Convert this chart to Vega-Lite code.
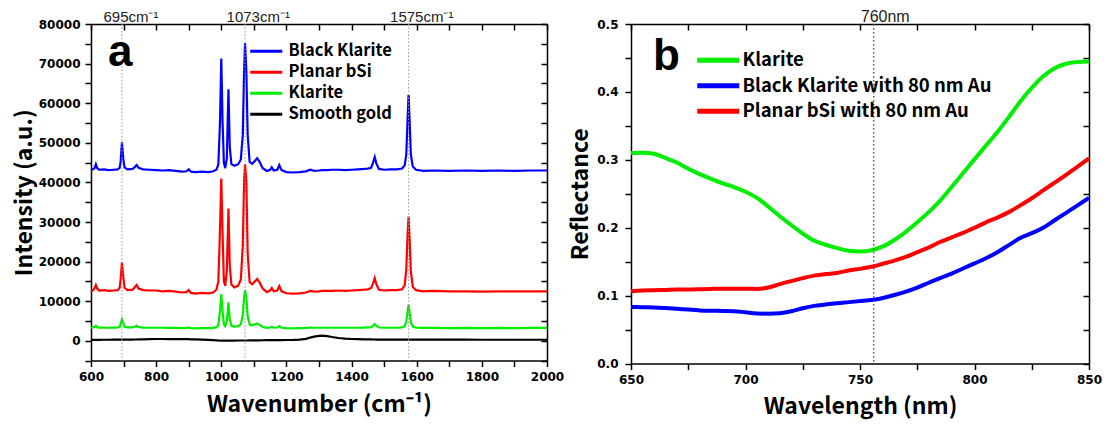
{
  "$schema": "https://vega.github.io/schema/vega-lite/v6.json",
  "background": "white",
  "padding": {"left": 13, "top": 9, "right": 5, "bottom": 5},
  "bounds": "flush",
  "spacing": 84,
  "config": {
    "view": {"stroke": null},
    "axis": {
      "grid": false,
      "domainColor": "#000000",
      "domainWidth": 1.5,
      "tickColor": "#000000",
      "tickWidth": 1.5,
      "tickSize": 6,
      "labelFont": "DejaVu Sans",
      "labelFontWeight": "bold",
      "labelFontSize": 12,
      "labelColor": "#000000",
      "labelPadding": 5,
      "labelFlush": false,
      "labelOverlap": false,
      "titleFont": "Noto Sans CJK KR",
      "titleFontWeight": "bold",
      "titleFontSize": 23,
      "titleColor": "#000000"
    }
  },
  "resolve": {"scale": {"color": "independent"}, "legend": {"color": "independent"}},
  "hconcat": [
    {
      "width": 456,
      "height": 336.6,
      "layer": [
        {
          "data": {"values": [
            {"w":600,"Black Klarite":43100,"Planar bSi":12400,"Klarite":3300,"Smooth gold":250},
            {"w":606,"Black Klarite":43300,"Planar bSi":12800,"Klarite":3400,"Smooth gold":250},
            {"w":611,"Black Klarite":43600,"Planar bSi":13300,"Klarite":3500,"Smooth gold":250},
            {"w":615,"Black Klarite":44600,"Planar bSi":14100,"Klarite":3800,"Smooth gold":250},
            {"w":619,"Black Klarite":43600,"Planar bSi":13200,"Klarite":3450,"Smooth gold":250},
            {"w":625,"Black Klarite":43200,"Planar bSi":12700,"Klarite":3350,"Smooth gold":250},
            {"w":640,"Black Klarite":43300,"Planar bSi":12800,"Klarite":3350,"Smooth gold":260},
            {"w":655,"Black Klarite":43100,"Planar bSi":12600,"Klarite":3300,"Smooth gold":270},
            {"w":670,"Black Klarite":43200,"Planar bSi":12700,"Klarite":3350,"Smooth gold":280},
            {"w":682,"Black Klarite":43300,"Planar bSi":12800,"Klarite":3400,"Smooth gold":290},
            {"w":688,"Black Klarite":43700,"Planar bSi":13400,"Klarite":3550,"Smooth gold":300},
            {"w":691,"Black Klarite":45200,"Planar bSi":15500,"Klarite":4200,"Smooth gold":300},
            {"w":695,"Black Klarite":50100,"Planar bSi":19800,"Klarite":5400,"Smooth gold":300},
            {"w":699,"Black Klarite":46000,"Planar bSi":16200,"Klarite":4500,"Smooth gold":300},
            {"w":703,"Black Klarite":43800,"Planar bSi":13400,"Klarite":3550,"Smooth gold":300},
            {"w":712,"Black Klarite":43300,"Planar bSi":12800,"Klarite":3400,"Smooth gold":310},
            {"w":728,"Black Klarite":43400,"Planar bSi":12900,"Klarite":3400,"Smooth gold":320},
            {"w":735,"Black Klarite":43900,"Planar bSi":13600,"Klarite":3600,"Smooth gold":330},
            {"w":740,"Black Klarite":44400,"Planar bSi":14100,"Klarite":3800,"Smooth gold":330},
            {"w":746,"Black Klarite":43700,"Planar bSi":13200,"Klarite":3500,"Smooth gold":340},
            {"w":760,"Black Klarite":43300,"Planar bSi":12800,"Klarite":3350,"Smooth gold":360},
            {"w":780,"Black Klarite":43200,"Planar bSi":12700,"Klarite":3300,"Smooth gold":400},
            {"w":800,"Black Klarite":43100,"Planar bSi":12700,"Klarite":3300,"Smooth gold":450},
            {"w":820,"Black Klarite":43000,"Planar bSi":12500,"Klarite":3300,"Smooth gold":450},
            {"w":840,"Black Klarite":43100,"Planar bSi":12600,"Klarite":3250,"Smooth gold":430},
            {"w":860,"Black Klarite":42900,"Planar bSi":12400,"Klarite":3250,"Smooth gold":420},
            {"w":880,"Black Klarite":42700,"Planar bSi":12200,"Klarite":3200,"Smooth gold":420},
            {"w":893,"Black Klarite":42800,"Planar bSi":12300,"Klarite":3250,"Smooth gold":410},
            {"w":900,"Black Klarite":43300,"Planar bSi":12800,"Klarite":3400,"Smooth gold":400},
            {"w":907,"Black Klarite":42700,"Planar bSi":12100,"Klarite":3200,"Smooth gold":380},
            {"w":920,"Black Klarite":42600,"Planar bSi":11900,"Klarite":3150,"Smooth gold":360},
            {"w":940,"Black Klarite":42700,"Planar bSi":12100,"Klarite":3200,"Smooth gold":320},
            {"w":960,"Black Klarite":42600,"Planar bSi":12000,"Klarite":3200,"Smooth gold":250},
            {"w":975,"Black Klarite":42800,"Planar bSi":12200,"Klarite":3250,"Smooth gold":150},
            {"w":985,"Black Klarite":43200,"Planar bSi":12900,"Klarite":3450,"Smooth gold":100},
            {"w":991,"Black Klarite":44500,"Planar bSi":15000,"Klarite":4000,"Smooth gold":80},
            {"w":996,"Black Klarite":55000,"Planar bSi":28000,"Klarite":7500,"Smooth gold":60},
            {"w":1000,"Black Klarite":71300,"Planar bSi":41000,"Klarite":11800,"Smooth gold":50},
            {"w":1004,"Black Klarite":55000,"Planar bSi":27000,"Klarite":7400,"Smooth gold":50},
            {"w":1008,"Black Klarite":45000,"Planar bSi":15000,"Klarite":4200,"Smooth gold":50},
            {"w":1012,"Black Klarite":43600,"Planar bSi":13900,"Klarite":3700,"Smooth gold":50},
            {"w":1017,"Black Klarite":46000,"Planar bSi":17500,"Klarite":5000,"Smooth gold":50},
            {"w":1022,"Black Klarite":63500,"Planar bSi":33400,"Klarite":9700,"Smooth gold":50},
            {"w":1026,"Black Klarite":49000,"Planar bSi":19000,"Klarite":5500,"Smooth gold":50},
            {"w":1031,"Black Klarite":44600,"Planar bSi":14200,"Klarite":3800,"Smooth gold":50},
            {"w":1040,"Black Klarite":44200,"Planar bSi":13500,"Klarite":3600,"Smooth gold":60},
            {"w":1052,"Black Klarite":44600,"Planar bSi":13900,"Klarite":3700,"Smooth gold":70},
            {"w":1060,"Black Klarite":45800,"Planar bSi":15500,"Klarite":4200,"Smooth gold":80},
            {"w":1066,"Black Klarite":52000,"Planar bSi":24000,"Klarite":6500,"Smooth gold":80},
            {"w":1070,"Black Klarite":68000,"Planar bSi":40000,"Klarite":11000,"Smooth gold":80},
            {"w":1073,"Black Klarite":75100,"Planar bSi":44600,"Klarite":12800,"Smooth gold":80},
            {"w":1077,"Black Klarite":68000,"Planar bSi":40000,"Klarite":11000,"Smooth gold":80},
            {"w":1081,"Black Klarite":52000,"Planar bSi":22000,"Klarite":6200,"Smooth gold":80},
            {"w":1087,"Black Klarite":45200,"Planar bSi":14800,"Klarite":4100,"Smooth gold":90},
            {"w":1095,"Black Klarite":44700,"Planar bSi":14300,"Klarite":3900,"Smooth gold":100},
            {"w":1103,"Black Klarite":45400,"Planar bSi":15000,"Klarite":4150,"Smooth gold":110},
            {"w":1110,"Black Klarite":46100,"Planar bSi":15600,"Klarite":4400,"Smooth gold":120},
            {"w":1117,"Black Klarite":45300,"Planar bSi":14800,"Klarite":4100,"Smooth gold":130},
            {"w":1127,"Black Klarite":43600,"Planar bSi":13200,"Klarite":3500,"Smooth gold":140},
            {"w":1140,"Black Klarite":42900,"Planar bSi":12300,"Klarite":3250,"Smooth gold":150},
            {"w":1150,"Black Klarite":43200,"Planar bSi":12700,"Klarite":3350,"Smooth gold":160},
            {"w":1155,"Black Klarite":43800,"Planar bSi":13300,"Klarite":3550,"Smooth gold":170},
            {"w":1161,"Black Klarite":43000,"Planar bSi":12500,"Klarite":3300,"Smooth gold":170},
            {"w":1172,"Black Klarite":43200,"Planar bSi":12700,"Klarite":3350,"Smooth gold":180},
            {"w":1178,"Black Klarite":44400,"Planar bSi":13800,"Klarite":3700,"Smooth gold":180},
            {"w":1185,"Black Klarite":43100,"Planar bSi":12500,"Klarite":3300,"Smooth gold":190},
            {"w":1200,"Black Klarite":42600,"Planar bSi":12000,"Klarite":3200,"Smooth gold":200},
            {"w":1220,"Black Klarite":42500,"Planar bSi":11900,"Klarite":3150,"Smooth gold":230},
            {"w":1240,"Black Klarite":42600,"Planar bSi":12000,"Klarite":3200,"Smooth gold":300},
            {"w":1260,"Black Klarite":42800,"Planar bSi":12200,"Klarite":3250,"Smooth gold":500},
            {"w":1273,"Black Klarite":43200,"Planar bSi":12600,"Klarite":3350,"Smooth gold":800},
            {"w":1285,"Black Klarite":42900,"Planar bSi":12400,"Klarite":3300,"Smooth gold":1050},
            {"w":1300,"Black Klarite":43000,"Planar bSi":12500,"Klarite":3300,"Smooth gold":1250},
            {"w":1310,"Black Klarite":43100,"Planar bSi":12600,"Klarite":3300,"Smooth gold":1300},
            {"w":1325,"Black Klarite":43100,"Planar bSi":12600,"Klarite":3300,"Smooth gold":1200},
            {"w":1340,"Black Klarite":43200,"Planar bSi":12600,"Klarite":3300,"Smooth gold":950},
            {"w":1360,"Black Klarite":43200,"Planar bSi":12700,"Klarite":3300,"Smooth gold":700},
            {"w":1380,"Black Klarite":43100,"Planar bSi":12600,"Klarite":3300,"Smooth gold":550},
            {"w":1400,"Black Klarite":43200,"Planar bSi":12700,"Klarite":3300,"Smooth gold":450},
            {"w":1420,"Black Klarite":43300,"Planar bSi":12800,"Klarite":3300,"Smooth gold":400},
            {"w":1438,"Black Klarite":43400,"Planar bSi":12900,"Klarite":3350,"Smooth gold":380},
            {"w":1450,"Black Klarite":43500,"Planar bSi":13000,"Klarite":3400,"Smooth gold":350},
            {"w":1460,"Black Klarite":43700,"Planar bSi":13300,"Klarite":3450,"Smooth gold":340},
            {"w":1466,"Black Klarite":45000,"Planar bSi":14500,"Klarite":3800,"Smooth gold":330},
            {"w":1471,"Black Klarite":46400,"Planar bSi":15800,"Klarite":4200,"Smooth gold":330},
            {"w":1476,"Black Klarite":44800,"Planar bSi":14300,"Klarite":3750,"Smooth gold":320},
            {"w":1484,"Black Klarite":43400,"Planar bSi":12900,"Klarite":3350,"Smooth gold":320},
            {"w":1500,"Black Klarite":43200,"Planar bSi":12700,"Klarite":3300,"Smooth gold":310},
            {"w":1520,"Black Klarite":43300,"Planar bSi":12800,"Klarite":3300,"Smooth gold":300},
            {"w":1540,"Black Klarite":43300,"Planar bSi":12800,"Klarite":3300,"Smooth gold":300},
            {"w":1555,"Black Klarite":43500,"Planar bSi":13000,"Klarite":3400,"Smooth gold":300},
            {"w":1563,"Black Klarite":44300,"Planar bSi":14000,"Klarite":3700,"Smooth gold":300},
            {"w":1568,"Black Klarite":47000,"Planar bSi":18000,"Klarite":4800,"Smooth gold":300},
            {"w":1572,"Black Klarite":56000,"Planar bSi":27000,"Klarite":7500,"Smooth gold":300},
            {"w":1575,"Black Klarite":62100,"Planar bSi":31400,"Klarite":9100,"Smooth gold":300},
            {"w":1578,"Black Klarite":56000,"Planar bSi":26000,"Klarite":7300,"Smooth gold":300},
            {"w":1582,"Black Klarite":47000,"Planar bSi":17500,"Klarite":4700,"Smooth gold":300},
            {"w":1588,"Black Klarite":44000,"Planar bSi":13600,"Klarite":3600,"Smooth gold":300},
            {"w":1598,"Black Klarite":43200,"Planar bSi":12800,"Klarite":3350,"Smooth gold":300},
            {"w":1620,"Black Klarite":42900,"Planar bSi":12500,"Klarite":3250,"Smooth gold":300},
            {"w":1650,"Black Klarite":43000,"Planar bSi":12600,"Klarite":3250,"Smooth gold":290},
            {"w":1700,"Black Klarite":42900,"Planar bSi":12500,"Klarite":3200,"Smooth gold":280},
            {"w":1750,"Black Klarite":43000,"Planar bSi":12500,"Klarite":3250,"Smooth gold":280},
            {"w":1800,"Black Klarite":42900,"Planar bSi":12400,"Klarite":3200,"Smooth gold":270},
            {"w":1850,"Black Klarite":43000,"Planar bSi":12500,"Klarite":3250,"Smooth gold":270},
            {"w":1900,"Black Klarite":42900,"Planar bSi":12500,"Klarite":3200,"Smooth gold":270},
            {"w":1950,"Black Klarite":43000,"Planar bSi":12500,"Klarite":3250,"Smooth gold":270},
            {"w":2000,"Black Klarite":43000,"Planar bSi":12500,"Klarite":3250,"Smooth gold":270}
          ]},
          "transform": [{"fold": ["Smooth gold", "Klarite", "Planar bSi", "Black Klarite"], "as": ["series", "intensity"]}],
          "mark": {"type": "line", "strokeWidth": 2.2},
          "encoding": {
            "x": {"field": "w", "type": "quantitative",
              "scale": {"domain": [600, 2000], "nice": false, "zero": false},
              "axis": {"title": "Wavenumber (cm⁻¹)", "values": [600,700,800,900,1000,1100,1200,1300,1400,1500,1600,1700,1800,1900,2000],
                "format": "d", "labelExpr": "datum.value % 200 === 0 ? datum.label : ''", "titlePadding": 11}},
            "y": {"field": "intensity", "type": "quantitative",
              "scale": {"domain": [-5000, 80000], "nice": false, "zero": false},
              "axis": {"title": "Intensity (a.u.)", "values": [-5000,0,5000,10000,15000,20000,25000,30000,35000,40000,45000,50000,55000,60000,65000,70000,75000,80000],
                "format": "d", "labelExpr": "datum.value >= 0 && datum.value % 10000 === 0 ? datum.label : ''", "titlePadding": 2}},
            "color": {"field": "series", "type": "nominal",
              "scale": {"domain": ["Black Klarite", "Planar bSi", "Klarite", "Smooth gold"], "range": ["#0000ff", "#ff0000", "#00ee00", "#000000"]},
              "legend": {"title": null, "orient": "none", "legendX": 167, "legendY": 19, "padding": 0, "offset": 0,
                "symbolType": "M-2.667,0H2.667", "symbolSize": 144, "symbolStrokeWidth": 3,
                "labelFont": "Noto Sans CJK KR", "labelFontWeight": "bold", "labelFontSize": 16.5, "labelColor": "#000000",
                "labelOffset": 14, "rowPadding": 4}}
          }
        },
        {
          "data": {"values": [{"pos": 695, "lab": "695cm⁻¹"}, {"pos": 1073, "lab": "1073cm⁻¹"}, {"pos": 1575, "lab": "1575cm⁻¹"}]},
          "mark": {"type": "rule", "strokeDash": [1.5, 2], "color": "#9a9a9a", "strokeWidth": 1},
          "encoding": {
            "x": {"field": "pos", "type": "quantitative", "scale": {"domain": [600, 2000], "nice": false, "zero": false}, "axis": null}
          }
        },
        {
          "data": {"values": [{"pos": 695, "lab": "695cm⁻¹"}, {"pos": 1073, "lab": "1073cm⁻¹"}, {"pos": 1575, "lab": "1575cm⁻¹"}]},
          "mark": {"type": "text", "align": "left", "baseline": "alphabetic", "dx": -18.5, "dy": -2, "font": "Liberation Sans", "fontSize": 15, "color": "#222222"},
          "encoding": {
            "x": {"field": "pos", "type": "quantitative", "scale": {"domain": [600, 2000], "nice": false, "zero": false},
              "axis": {"orient": "top", "labels": false, "title": null, "tickSize": -6, "values": [600,700,800,900,1000,1100,1200,1300,1400,1500,1600,1700,1800,1900,2000]}},
            "y": {"datum": 80000, "type": "quantitative", "scale": {"domain": [-5000, 80000], "nice": false, "zero": false},
              "axis": {"orient": "right", "labels": false, "title": null, "tickSize": -6, "values": [-5000,0,5000,10000,15000,20000,25000,30000,35000,40000,45000,50000,55000,60000,65000,70000,75000,80000]}},
            "text": {"field": "lab"}
          }
        },
        {
          "data": {"values": [{"lx": 652, "ly": 69400, "t": "a"}]},
          "mark": {"type": "text", "align": "left", "baseline": "alphabetic", "font": "Liberation Sans", "fontWeight": "bold", "fontSize": 44, "color": "#000000"},
          "encoding": {
            "x": {"field": "lx", "type": "quantitative", "scale": {"domain": [600, 2000], "nice": false, "zero": false}, "axis": null},
            "y": {"field": "ly", "type": "quantitative", "scale": {"domain": [-5000, 80000], "nice": false, "zero": false}, "axis": null},
            "text": {"field": "t"}
          }
        }
      ],
      "resolve": {"axis": {"x": "independent", "y": "independent"}}
    },
    {
      "width": 458,
      "height": 339.6,
      "layer": [
        {
          "data": {"values": [
            {"wl":650,"Klarite":0.310,"Black Klarite with 80 nm Au":0.0834,"Planar bSi with 80 nm Au":0.1065},
            {"wl":655,"Klarite":0.3105,"Black Klarite with 80 nm Au":0.0830,"Planar bSi with 80 nm Au":0.1075},
            {"wl":660,"Klarite":0.309,"Black Klarite with 80 nm Au":0.0825,"Planar bSi with 80 nm Au":0.108},
            {"wl":665,"Klarite":0.303,"Black Klarite with 80 nm Au":0.0820,"Planar bSi with 80 nm Au":0.1085},
            {"wl":670,"Klarite":0.296,"Black Klarite with 80 nm Au":0.0808,"Planar bSi with 80 nm Au":0.109},
            {"wl":675,"Klarite":0.287,"Black Klarite with 80 nm Au":0.0795,"Planar bSi with 80 nm Au":0.109},
            {"wl":680,"Klarite":0.279,"Black Klarite with 80 nm Au":0.0783,"Planar bSi with 80 nm Au":0.1095},
            {"wl":685,"Klarite":0.272,"Black Klarite with 80 nm Au":0.0778,"Planar bSi with 80 nm Au":0.110},
            {"wl":690,"Klarite":0.2655,"Black Klarite with 80 nm Au":0.0776,"Planar bSi with 80 nm Au":0.1103},
            {"wl":695,"Klarite":0.260,"Black Klarite with 80 nm Au":0.0772,"Planar bSi with 80 nm Au":0.1103},
            {"wl":700,"Klarite":0.253,"Black Klarite with 80 nm Au":0.0755,"Planar bSi with 80 nm Au":0.1103},
            {"wl":705,"Klarite":0.244,"Black Klarite with 80 nm Au":0.0738,"Planar bSi with 80 nm Au":0.110},
            {"wl":710,"Klarite":0.231,"Black Klarite with 80 nm Au":0.0735,"Planar bSi with 80 nm Au":0.112},
            {"wl":715,"Klarite":0.217,"Black Klarite with 80 nm Au":0.0742,"Planar bSi with 80 nm Au":0.117},
            {"wl":720,"Klarite":0.204,"Black Klarite with 80 nm Au":0.0770,"Planar bSi with 80 nm Au":0.1215},
            {"wl":725,"Klarite":0.1915,"Black Klarite with 80 nm Au":0.0815,"Planar bSi with 80 nm Au":0.1258},
            {"wl":730,"Klarite":0.181,"Black Klarite with 80 nm Au":0.0850,"Planar bSi with 80 nm Au":0.1295},
            {"wl":735,"Klarite":0.175,"Black Klarite with 80 nm Au":0.0870,"Planar bSi with 80 nm Au":0.1318},
            {"wl":740,"Klarite":0.170,"Black Klarite with 80 nm Au":0.0890,"Planar bSi with 80 nm Au":0.1335},
            {"wl":745,"Klarite":0.166,"Black Klarite with 80 nm Au":0.0905,"Planar bSi with 80 nm Au":0.137},
            {"wl":750,"Klarite":0.1652,"Black Klarite with 80 nm Au":0.0920,"Planar bSi with 80 nm Au":0.1395},
            {"wl":755,"Klarite":0.167,"Black Klarite with 80 nm Au":0.0935,"Planar bSi with 80 nm Au":0.1425},
            {"wl":760,"Klarite":0.1725,"Black Klarite with 80 nm Au":0.0965,"Planar bSi with 80 nm Au":0.147},
            {"wl":765,"Klarite":0.182,"Black Klarite with 80 nm Au":0.1010,"Planar bSi with 80 nm Au":0.1515},
            {"wl":770,"Klarite":0.194,"Black Klarite with 80 nm Au":0.1060,"Planar bSi with 80 nm Au":0.157},
            {"wl":775,"Klarite":0.208,"Black Klarite with 80 nm Au":0.1120,"Planar bSi with 80 nm Au":0.164},
            {"wl":780,"Klarite":0.223,"Black Klarite with 80 nm Au":0.1190,"Planar bSi with 80 nm Au":0.171},
            {"wl":785,"Klarite":0.240,"Black Klarite with 80 nm Au":0.1260,"Planar bSi with 80 nm Au":0.179},
            {"wl":790,"Klarite":0.260,"Black Klarite with 80 nm Au":0.1325,"Planar bSi with 80 nm Au":0.186},
            {"wl":795,"Klarite":0.2805,"Black Klarite with 80 nm Au":0.140,"Planar bSi with 80 nm Au":0.1925},
            {"wl":800,"Klarite":0.301,"Black Klarite with 80 nm Au":0.1475,"Planar bSi with 80 nm Au":0.200},
            {"wl":805,"Klarite":0.321,"Black Klarite with 80 nm Au":0.1550,"Planar bSi with 80 nm Au":0.208},
            {"wl":810,"Klarite":0.341,"Black Klarite with 80 nm Au":0.1640,"Planar bSi with 80 nm Au":0.215},
            {"wl":815,"Klarite":0.363,"Black Klarite with 80 nm Au":0.1745,"Planar bSi with 80 nm Au":0.223},
            {"wl":820,"Klarite":0.386,"Black Klarite with 80 nm Au":0.1850,"Planar bSi with 80 nm Au":0.233},
            {"wl":825,"Klarite":0.406,"Black Klarite with 80 nm Au":0.1920,"Planar bSi with 80 nm Au":0.2435},
            {"wl":830,"Klarite":0.423,"Black Klarite with 80 nm Au":0.2000,"Planar bSi with 80 nm Au":0.255},
            {"wl":835,"Klarite":0.435,"Black Klarite with 80 nm Au":0.2110,"Planar bSi with 80 nm Au":0.2665},
            {"wl":840,"Klarite":0.4415,"Black Klarite with 80 nm Au":0.2220,"Planar bSi with 80 nm Au":0.278},
            {"wl":845,"Klarite":0.4442,"Black Klarite with 80 nm Au":0.2330,"Planar bSi with 80 nm Au":0.290},
            {"wl":850,"Klarite":0.4447,"Black Klarite with 80 nm Au":0.2440,"Planar bSi with 80 nm Au":0.302}
          ]},
          "transform": [{"fold": ["Klarite", "Black Klarite with 80 nm Au", "Planar bSi with 80 nm Au"], "as": ["curve", "reflectance"]}],
          "mark": {"type": "line", "strokeWidth": 4, "interpolate": "monotone"},
          "encoding": {
            "x": {"field": "wl", "type": "quantitative",
              "scale": {"domain": [650, 850], "nice": false, "zero": false},
              "axis": {"title": "Wavelength  (nm)", "values": [650,675,700,725,750,775,800,825,850],
                "labelExpr": "datum.value % 50 === 0 ? datum.label : ''", "titlePadding": 10}},
            "y": {"field": "reflectance", "type": "quantitative",
              "scale": {"domain": [0, 0.5], "nice": false, "zero": false},
              "axis": {"title": "Reflectance", "values": [0,0.05,0.1,0.15,0.2,0.25,0.3,0.35,0.4,0.45,0.5],
                "labelExpr": "abs(datum.value * 10 - round(datum.value * 10)) < 0.001 ? format(datum.value, '.1f') : ''", "labelPadding": 7, "titlePadding": 4}},
            "color": {"field": "curve", "type": "nominal",
              "scale": {"domain": ["Klarite", "Black Klarite with 80 nm Au", "Planar bSi with 80 nm Au"], "range": ["#00ee00", "#0000ff", "#ff0000"]},
              "legend": {"title": null, "orient": "none", "legendX": 78, "legendY": 27, "padding": 0, "offset": 0,
                "symbolType": "M-3.5,0H3.5", "symbolSize": 144, "symbolStrokeWidth": 5,
                "labelFont": "Noto Sans CJK KR", "labelFontWeight": "bold", "labelFontSize": 18.5, "labelColor": "#000000",
                "labelOffset": 15, "rowPadding": 4.5, "labelLimit": 400}}
          }
        },
        {
          "data": {"values": [{"pos": 756, "lab": "760nm"}]},
          "mark": {"type": "rule", "strokeDash": [1.5, 2.5], "color": "#444444", "strokeWidth": 1.3},
          "encoding": {
            "x": {"field": "pos", "type": "quantitative", "scale": {"domain": [650, 850], "nice": false, "zero": false}, "axis": null}
          }
        },
        {
          "data": {"values": [{"pos": 756, "lab": "760nm"}]},
          "mark": {"type": "text", "align": "left", "baseline": "alphabetic", "dx": -13, "dy": -2, "font": "Liberation Sans", "fontSize": 16, "color": "#222222"},
          "encoding": {
            "x": {"field": "pos", "type": "quantitative", "scale": {"domain": [650, 850], "nice": false, "zero": false},
              "axis": {"orient": "top", "labels": false, "title": null, "tickSize": -6, "values": [650,675,700,725,750,775,800,825,850]}},
            "y": {"datum": 0.5, "type": "quantitative", "scale": {"domain": [0, 0.5], "nice": false, "zero": false},
              "axis": {"orient": "right", "labels": false, "title": null, "tickSize": -6, "values": [0,0.05,0.1,0.15,0.2,0.25,0.3,0.35,0.4,0.45,0.5]}},
            "text": {"field": "lab"}
          }
        },
        {
          "data": {"values": [{"lx": 659.6, "ly": 0.432, "t": "b"}]},
          "mark": {"type": "text", "align": "left", "baseline": "alphabetic", "font": "Liberation Sans", "fontWeight": "bold", "fontSize": 44, "color": "#000000"},
          "encoding": {
            "x": {"field": "lx", "type": "quantitative", "scale": {"domain": [650, 850], "nice": false, "zero": false}, "axis": null},
            "y": {"field": "ly", "type": "quantitative", "scale": {"domain": [0, 0.5], "nice": false, "zero": false}, "axis": null},
            "text": {"field": "t"}
          }
        }
      ],
      "resolve": {"axis": {"x": "independent", "y": "independent"}}
    }
  ]
}
